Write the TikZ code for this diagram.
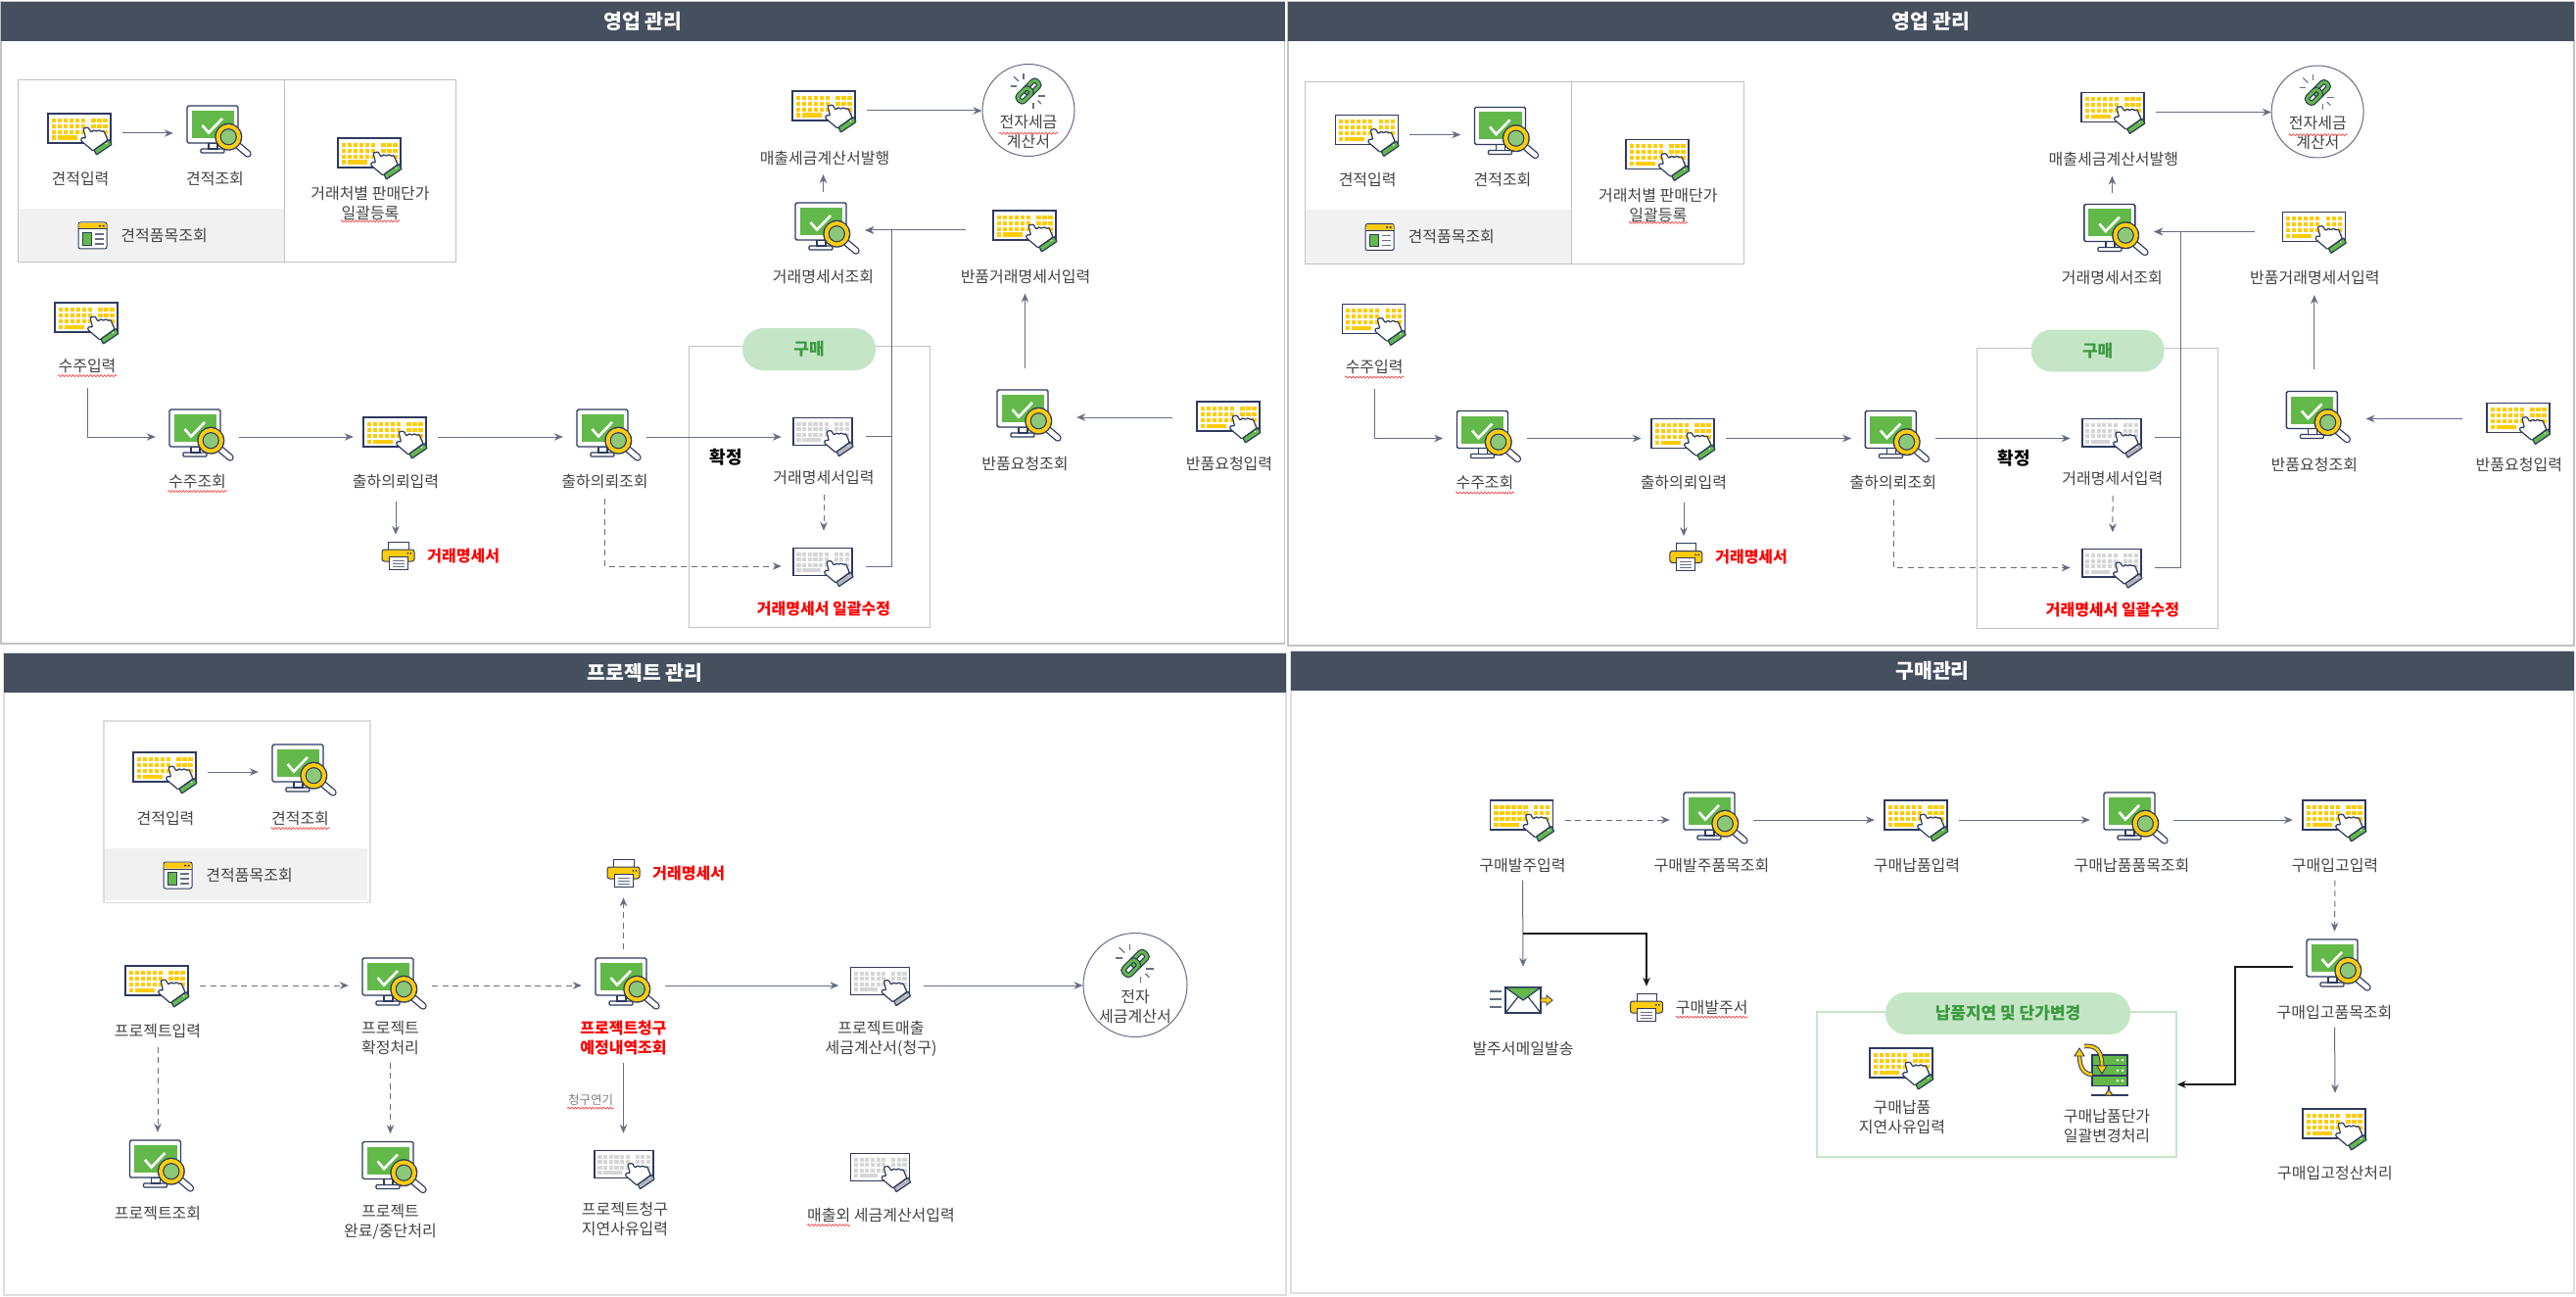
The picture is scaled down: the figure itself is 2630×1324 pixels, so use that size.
\documentclass[tikz,border=0pt]{standalone}
\usepackage{fontspec}
\setmainfont{Noto Sans CJK KR}
\usetikzlibrary{arrows.meta,positioning,decorations.pathmorphing}

\definecolor{hdrcol}{HTML}{454F5E}
\definecolor{navy}{HTML}{2E3A5F}
\definecolor{keyyel}{HTML}{FFCC0A}
\definecolor{icongrn}{HTML}{62B94A}
\definecolor{lensgrn}{HTML}{8CC878}
\definecolor{arrcol}{HTML}{666E85}
\definecolor{txtcol}{HTML}{444444}
\definecolor{pillgrn}{HTML}{C5E6C6}
\definecolor{pilltxt}{HTML}{3A9A3F}
\definecolor{framegray}{HTML}{C2C2C2}
\definecolor{framelite}{HTML}{DEDEDE}
\definecolor{bandgray}{HTML}{F1F1F1}
\definecolor{keygray}{HTML}{D6D6D6}
\definecolor{cuffgray}{HTML}{B4B6BC}

\newcommand{\kbdicon}[2]{%
  \begin{scope}[shift={(-33,-20)}]
    \draw[navy, line width=1.4pt, fill=white] (0,0) rectangle (64,30);
    \foreach \ky in {4.7,10.7,16.7} {
      \foreach \kx in {3.7,9.7,15.7,21.7,27.7,33.7,44.3,50.3,56.3}
        \fill[#1] (\kx,\ky) rectangle +(4.4,4.2);
    }
    \fill[#1] (3.7,22.5) rectangle +(4.4,4.2);
    \fill[#1] (9.7,22.5) rectangle +(20,4.2);
    \fill[#1] (56.3,22.5) rectangle +(4.4,4.2);
    \draw[navy, line width=1.2pt, fill=white, rounded corners=1pt]
      (36,15) -- (38.5,25) -- (34.5,24.5) -- (33.5,27.5) -- (46,38) -- (61,27)
      -- (57,17.5) -- (54,18.5) -- (52.5,16.5) -- (49,18.5) -- (47.5,16.5)
      -- (44,19) -- (41,14) -- cycle;
    \draw[navy, line width=1.2pt, fill=#2, rounded corners=.5pt]
      (47,37) -- (62.5,26.5) -- (65,31.5) -- (49.5,42) -- cycle;
    \fill[white] (59.5,30.5) circle (.8);
  \end{scope}}

\tikzset{
  keyin/.pic={\kbdicon{keyyel}{icongrn}},
  keygr/.pic={\begin{scope}[scale=.94]\kbdicon{keygray}{cuffgray}\end{scope}},
  monitor/.pic={
    \begin{scope}[shift={(-28.5,-28)}]
      \draw[navy, line width=1.2pt, fill=white, rounded corners=1pt] (14,48) -- (38,48) -- (38,44) -- (14,44) -- cycle;
      \draw[navy, line width=1.2pt, fill=white] (22,38) rectangle (31,44);
      \draw[navy, line width=1.4pt, fill=white, rounded corners=1.5pt] (0,0) rectangle (52,38);
      \fill[icongrn] (4.5,5) rectangle (48,33);
      \draw[white, line width=2.6pt] (15.5,20) -- (22,27.5) -- (36,13);
      \draw[navy, line width=7.4pt, line cap=round] (52.5,41) -- (62,49);
      \draw[white, line width=4.8pt, line cap=round] (52.5,41) -- (62,49);
      \fill[navy] (42.3,31.7) circle (14);
      \fill[keyyel] (42.3,31.7) circle (12.7);
      \fill[navy] (42.3,31.7) circle (8.6);
      \fill[lensgrn] (42.3,31.7) circle (7.4);
    \end{scope}},
  winicon/.pic={
    \begin{scope}[shift={(-14.5,-13.5)}]
      \draw[navy, line width=1pt, fill=white, rounded corners=2pt] (0,0) rectangle (29,27);
      \fill[keyyel, rounded corners=1.5pt] (.6,.6) rectangle (28.4,6.5);
      \draw[navy, line width=1pt] (0,7) -- (29,7);
      \fill[navy] (21,2.8) rectangle +(2,1.6) (24.5,2.8) rectangle +(2,1.6);
      \draw[navy, line width=.8pt, fill=icongrn] (4,10.5) rectangle (13,23);
      \foreach \ly in {12,17,22} \draw[arrcol, line width=1.1pt] (17,\ly) -- (26,\ly);
    \end{scope}},
  printer/.pic={
    \begin{scope}[shift={(-16.5,-14)}]
      \draw[navy, line width=1pt, fill=white] (6.5,0) rectangle (27,11);
      \draw[navy, line width=1pt, fill=keyyel, rounded corners=2.5pt] (0,8) rectangle (33,20);
      \fill[navy] (25.5,11) rectangle +(1.6,1.6) (28.5,11) rectangle +(1.6,1.6);
      \draw[navy, line width=1pt, fill=white] (7,15) rectangle (26,28);
      \foreach \ly in {19,22,25} \draw[arrcol, line width=.9pt] (10.5,\ly) -- (22.5,\ly);
    \end{scope}},
  chainicon/.pic={
    \foreach \sx/\sy/\ex/\ey in {-5/-18/-5/-12, -15/-15/-10/-10, -18/-5/-12/-5, 10/5/17/5, 5/12/5/18, 9.5/9.5/13/13}
      \draw[arrcol, line width=1.1pt] (\sx,\sy) -- (\ex,\ey);
    \begin{scope}[rotate=45]
      \draw[navy, line width=5.4pt, rounded corners=3pt] (-2,-4) rectangle (13,4);
      \draw[icongrn, line width=3pt, rounded corners=3pt] (-2,-4) rectangle (13,4);
      \draw[navy, line width=5.4pt, rounded corners=3pt] (-13,-4) rectangle (2,4);
      \draw[icongrn, line width=3pt, rounded corners=3pt] (-13,-4) rectangle (2,4);
    \end{scope}},
  mailicon/.pic={
    \foreach \ly in {-9,-1,7} \draw[arrcol, line width=1.2pt] (-34,\ly) -- (-22,\ly);
    \draw[navy, line width=1.3pt, fill=white] (-18,-13) rectangle (18,13);
    \draw[navy, line width=1.2pt, fill=icongrn] (-18,-13) -- (0,0) -- (18,-13) -- cycle;
    \draw[navy, line width=1.2pt] (-18,13) -- (-5,-3.5) (18,13) -- (5,-3.5);
    \draw[navy, line width=.8pt, fill=keyyel] (18,-2) -- (24,-2) -- (24,-5) -- (30,0) -- (24,5) -- (24,2) -- (18,2) -- cycle;
  },
  servericon/.pic={
    \foreach \ry in {-17,-6.5,4} {
      \draw[navy, line width=1.1pt, fill=icongrn] (-10,\ry) rectangle +(36,10.5);
      \fill[white] (16,\ry+5.2) circle (1.4) (21,\ry+5.2) circle (1.4);
    }
    \draw[navy, line width=1.1pt] (7,14.5) -- (7,22) (-11,24) -- (27,24);
    \draw[navy, line width=1pt, fill=keyyel] (3,24) -- (7,18.5) -- (11,24) -- cycle;
    \draw[navy, line width=4.6pt] (-10,3) .. controls (-20,2) and (-23,-6) .. (-23,-17);
    \draw[keyyel, line width=2.6pt] (-10,3) .. controls (-20,2) and (-23,-6) .. (-23,-17);
    \draw[navy, line width=.9pt, fill=keyyel] (-28,-16) -- (-23,-24) -- (-18,-16) -- cycle;
    \draw[navy, line width=4.6pt] (-18,-26) .. controls (-8,-27) and (0,-24) .. (0,-6);
    \draw[keyyel, line width=2.6pt] (-18,-26) .. controls (-8,-27) and (0,-24) .. (0,-6);
    \draw[navy, line width=.9pt, fill=keyyel] (-5,-6) -- (0,2) -- (5,-6) -- cycle;
  }
}

\begin{document}
\begin{tikzpicture}[
    x=1pt, y=-1pt, >={Stealth[length=9pt,width=7.5pt]},
    panel/.style={rectangle, draw=framegray, line width=1.2pt, inner sep=0pt},
    litepanel/.style={rectangle, draw=framelite, line width=1.6pt, inner sep=0pt},
    header/.style={rectangle, fill=hdrcol, text=white, inner sep=0pt,
                   font=\fontsize{20.5}{24}\selectfont\bfseries},
    estbox/.style={rectangle, draw=framegray, line width=1pt, inner sep=0pt},
    band/.style={rectangle, fill=bandgray, inner sep=0pt},
    kbdbox/.style={rectangle, inner sep=0pt, minimum width=86pt, minimum height=72pt},
    monbox/.style={rectangle, inner sep=0pt, minimum width=85pt, minimum height=72pt},
    winbox/.style={rectangle, inner sep=0pt, minimum width=29pt, minimum height=27pt},
    prnbox/.style={rectangle, inner sep=0pt, minimum width=35pt, minimum height=42pt},
    etax/.style={circle, draw=arrcol, line width=1pt, inner sep=0pt},
    lbl/.style={inner sep=0pt, align=center, text=txtcol, font=\fontsize{16}{20}\selectfont,
                execute at begin node={\rule{0pt}{16pt}},
                execute at end node={\rule[-4pt]{0pt}{4pt}}},
    redlbl/.style={lbl, text=red, font=\fontsize{16}{20}\selectfont\bfseries},
    smlbl/.style={lbl, text=gray, font=\fontsize{12.5}{16}\selectfont},
    boldlbl/.style={lbl, text=black, font=\fontsize{18}{20}\selectfont\bfseries},
    buybox/.style={rectangle, draw=framegray, line width=1pt, inner sep=0pt},
    grnbox/.style={rectangle, draw=pillgrn, line width=1.6pt, inner sep=0pt},
    pill/.style={rectangle, fill=pillgrn, text=pilltxt, rounded corners=21pt, inner sep=0pt,
                 minimum height=43pt, font=\fontsize{17}{20}\selectfont\bfseries},
    arr/.style={->, draw=arrcol, line width=1pt},
    dsh/.style={arr, dash pattern=on 6pt off 4.5pt},
    blk/.style={->, draw=black!90, line width=1.2pt},
    wavy/.style={draw=red!85, line width=.55pt, decorate,
                 decoration={snake, amplitude=1pt, segment length=3.6pt}}
  ]
    \useasboundingbox (0,0) rectangle (2630,1324);
    \fill[white] (0,0) rectangle (2630,1324);

    %--- Panel frames ---
    \node[panel, minimum width=1310.5pt, minimum height=655pt] (pan1) at (656.25,329.5) {};
    \node[header, minimum width=1310.5pt, minimum height=40pt] (hd1) at (656.25,22) {영업 관리};
    \node[panel, minimum width=1313pt, minimum height=657pt] (pan2) at (1971.5,330.5) {};
    \node[header, minimum width=1313pt, minimum height=40pt] (hd2) at (1971.5,22) {영업 관리};

    %--- Sales panels (same drawing twice) ---
    \foreach \pn/\px/\py/\sx in {a/0/0/1,b/1314/1.5/1.002} {
    \begin{scope}[shift={(\px,\py)}, xscale=\sx, name prefix=\pn-]
      %--- Estimate box ---
      \node[band, minimum width=271.5pt, minimum height=55pt] (bnd) at (154.5,240.5) {};
      \node[estbox, minimum width=271.5pt, minimum height=186pt] (eb1) at (154.25,175) {};
      \node[estbox, minimum width=175.5pt, minimum height=186pt] (eb2) at (377.75,175) {};
      \node[kbdbox] (est)  at (82,136) {};
      \node[monbox] (esv)  at (219.5,136) {};
      \node[kbdbox] (prc)  at (378,161) {};
      \node[winbox] (win)  at (94.5,240.5) {};
      \node[lbl, below=0pt of est]    (est-l) {견적입력};
      \node[lbl, below=0pt of esv]    (esv-l) {견적조회};
      \node[lbl, below=-7pt of prc]   (prc-l) {거래처별 판매단가 \\ 일괄등록};
      \node[lbl, right=14pt of win]   (win-l) {견적품목조회};

      %--- Order flow ---
      \node[kbdbox] (sin)  at (89,329) {};
      \node[monbox] (sqy)  at (201.5,446) {};
      \node[kbdbox] (req)  at (404,446) {};
      \node[monbox] (rqv)  at (617.5,446) {};
      \node[prnbox] (prn)  at (406.5,567) {};
      \node[lbl, below=-2pt of sin]   (sin-l) {수주입력};
      \node[lbl, below=-1pt of sqy]   (sqy-l) {수주조회};
      \node[lbl, below=-1pt of req]   (req-l) {출하의뢰입력};
      \node[lbl, below=-1pt of rqv]   (rqv-l) {출하의뢰조회};
      \node[redlbl, right=12pt of prn] (prn-l) {거래명세서};

      %--- Purchase group ---
      \node[buybox, minimum width=246pt, minimum height=286.5pt] (buy) at (826,496.75) {};
      \node[pill, minimum width=136pt] (buy-t) at (826,356.5) {구매};
      \node[boldlbl] (cfm) at (741,467) {확정};
      \node[kbdbox] (tin)  at (841,445) {};
      \node[kbdbox] (tbk)  at (841,578) {};
      \node[lbl, below=-4pt of tin]   (tin-l) {거래명세서입력};
      \node[redlbl, below=-3pt of tbk] (tbk-l) {거래명세서 일괄수정};

      %--- Invoice and returns ---
      \node[kbdbox] (tst)  at (842,113) {};
      \node[monbox] (tqy)  at (840.5,235) {};
      \node[etax, minimum size=94pt] (eti) at (1050,112.5) {};
      \node[kbdbox] (rtn)  at (1047,235) {};
      \node[monbox] (rrq)  at (1046.5,426) {};
      \node[kbdbox] (rri)  at (1255,430) {};
      \node[lbl, below=2pt of tst]    (tst-l) {매출세금계산서발행};
      \node[lbl, below=1pt of tqy]    (tqy-l) {거래명세서조회};
      \node[lbl, below=1pt of rtn]    (rtn-l) {반품거래명세서입력};
      \node[lbl, below=1pt of rrq]    (rrq-l) {반품요청조회};
      \node[lbl, below=-3pt of rri]   (rri-l) {반품요청입력};
      \node[lbl] (eti-l) at ([yshift=-23pt]eti.center) {전자세금 \\ 계산서};
      \coordinate (trk) at (910,235);

      %--- Icons ---
      \foreach \n in {est,prc,sin,req,tst,rtn,rri} \pic at (\n) {keyin};
      \foreach \n in {esv,sqy,rqv,tqy,rrq} \pic at (\n) {monitor};
      \foreach \n in {tin,tbk} \pic at (\n) {keygr};
      \pic at (win) {winicon};
      \pic at (prn) {printer};
      \pic at ([yshift=19.5pt]eti.center) {chainicon};

      %--- Arrows ---
      \draw[arr] (est) -- (esv);
      \draw[arr, shorten <=12pt] (sin-l.south) |- (sqy.west);
      \draw[arr] (sqy) -- (req);
      \draw[arr] (req) -- (rqv);
      \draw[arr] (rqv.east) -- (rqv.east -| tin.west);
      \draw[arr, shorten <=10pt] (req-l.south) -- (req-l.south |- prn.north);
      \draw[dsh, shorten <=7pt] (rqv-l.south) |- (tbk.west);
      \draw[dsh, shorten <=7pt] (tin-l.south) -- (tbk.north);
      \draw[arr, -] (tin.east) -- (tin.east -| trk);
      \draw[arr] (tbk.east) -| (trk) -- (tqy.east);
      \draw[arr, shorten <=18pt] (rtn.west) -- (tqy.east);
      \draw[arr, shorten <=3pt, shorten >=6.5pt] (tqy.north) -- (tqy.north |- tst-l.south);
      \draw[arr] (tst.east) -- (tst.east -| eti.west);
      \draw[arr, shorten <=14pt, shorten >=7pt] (rrq.north) -- (rrq.north |- rtn-l.south);
      \draw[arr, shorten <=15pt, shorten >=10pt] (rrq.east -| rri.west) -- (rrq.east);

      %--- Spell marks ---
      \draw[wavy] ([xshift=-30pt]sin-l.south) -- ([xshift=30pt]sin-l.south);
      \draw[wavy] ([xshift=-30pt]sqy-l.south) -- ([xshift=30pt]sqy-l.south);
      \draw[wavy] ([xshift=-30pt,yshift=2pt]prc-l.south) -- ([xshift=30pt,yshift=2pt]prc-l.south);
      \draw[wavy] ([xshift=-30pt,yshift=-19.5pt]eti-l.north) -- ([xshift=30pt,yshift=-19.5pt]eti-l.north);
    \end{scope}
    }

    %--- Project panel ---
    \node[litepanel, minimum width=1309pt, minimum height=655pt] (pan3) at (658.5,994.5) {};
    \node[header, minimum width=1309pt, minimum height=40pt] (hd3) at (658.5,686.5) {프로젝트 관리};
    \node[estbox, draw=framelite, line width=1.6pt, minimum width=272pt, minimum height=185.5pt] (pe) at (242,828.75) {};
    \node[band, minimum width=268pt, minimum height=53pt] (pb) at (241,892.5) {};
    \node[kbdbox] (pest)  at (169,788) {};
    \node[monbox] (pesv)  at (306.5,788) {};
    \node[winbox] (pwin)  at (181.5,893.5) {};
    \node[lbl, below=1pt of pest]   (pest-l) {견적입력};
    \node[lbl, below=1pt of pesv]   (pesv-l) {견적조회};
    \node[lbl, right=14pt of pwin]  (pwin-l) {견적품목조회};

    \node[kbdbox] (pin)   at (161,1006) {};
    \node[monbox] (pcf)   at (398.5,1006) {};
    \node[monbox] (pbl)   at (636.5,1006) {};
    \node[kbdbox] (psl)   at (899.5,1006) {};
    \node[etax, minimum size=106pt] (pet) at (1159,1005.5) {};
    \node[monbox] (pqy)   at (161,1192) {};
    \node[monbox] (pcl)   at (398.5,1193.5) {};
    \node[kbdbox] (pdl)   at (638,1193) {};
    \node[kbdbox] (pex)   at (899.5,1196) {};
    \node[prnbox] (pprn)  at (636.5,891) {};
    \node[lbl, below=0pt of pin]    (pin-l) {프로젝트입력};
    \node[lbl, below=0pt of pcf]    (pcf-l) {프로젝트 \\ 확정처리};
    \node[redlbl, below=0pt of pbl] (pbl-l) {프로젝트청구 \\ 예정내역조회};
    \node[lbl, below=0pt of psl]    (psl-l) {프로젝트매출 \\ 세금계산서(청구)};
    \node[lbl, below=0pt of pqy]    (pqy-l) {프로젝트조회};
    \node[lbl, below=-1pt of pcl]   (pcl-l) {프로젝트 \\ 완료/중단처리};
    \node[lbl, below=-2pt of pdl]   (pdl-l) {프로젝트청구 \\ 지연사유입력};
    \node[lbl, below=-2pt of pex]   (pex-l) {매출외 세금계산서입력};
    \node[redlbl, right=12pt of pprn] (pprn-l) {거래명세서};
    \node[smlbl] (pdly) at (603,1121) {청구연기};
    \node[lbl] (pet-l) at ([yshift=-23pt]pet.center) {전자 \\ 세금계산서};

    \foreach \n in {pest,pin} \pic at (\n) {keyin};
    \foreach \n in {pesv,pcf,pbl,pqy,pcl} \pic at (\n) {monitor};
    \foreach \n in {psl,pdl,pex} \pic at (\n) {keygr};
    \pic at (pwin) {winicon};
    \pic at (pprn) {printer};
    \pic[scale=1.1] at ([yshift=22pt]pet.center) {chainicon};

    \draw[arr] (pest) -- (pesv);
    \draw[dsh] (pin) -- (pcf);
    \draw[dsh] (pcf) -- (pbl);
    \draw[arr] (pbl) -- (psl);
    \draw[arr] (psl.east) -- (psl.east -| pet.west);
    \draw[dsh, shorten <=1pt, shorten >=4pt] (pbl.north) -- (pprn.south);
    \draw[dsh, shorten <=6pt] (pin-l.south) -- (pqy.north);
    \draw[dsh, shorten <=5pt] (pcf-l.south) -- (pcl.north);
    \draw[arr, shorten <=5pt] (pbl-l.south) -- (pbl-l.south |- pdl.north);

    \draw[wavy] ([xshift=-30pt]pesv-l.south) -- ([xshift=30pt]pesv-l.south);
    \draw[wavy] ([xshift=-24pt]pdly.south) -- ([xshift=24pt]pdly.south);
    \draw[wavy] (pex-l.south west) -- ([xshift=44pt]pex-l.south west);

    %--- Purchase panel ---
    \node[litepanel, minimum width=1310pt, minimum height=655pt] (pan4) at (1973,992.5) {};
    \node[header, minimum width=1310pt, minimum height=40pt] (hd4) at (1973,685) {구매관리};

    \node[kbdbox] (bod)   at (1554.5,837) {};
    \node[monbox] (bov)   at (1747.5,837) {};
    \node[kbdbox] (bdl)   at (1957,837) {};
    \node[monbox] (bdv)   at (2176.5,837) {};
    \node[kbdbox] (brc)   at (2384,837) {};
    \node[monbox] (brv)   at (2383.5,987) {};
    \node[kbdbox] (bst)   at (2384,1152) {};
    \node[rectangle, inner sep=0pt, minimum width=64pt, minimum height=68pt] (bml) at (1555,1021) {};
    \node[prnbox] (bpr)   at (1681,1028) {};
    \node[grnbox, minimum width=367pt, minimum height=148pt] (grn) at (2038.5,1107) {};
    \node[pill, minimum width=250pt] (grn-t) at (2050,1034.5) {납품지연 및 단가변경};
    \node[kbdbox] (bds)   at (1942,1090) {};
    \node[rectangle, inner sep=0pt, minimum width=56pt, minimum height=54pt] (bsv) at (2146,1094) {};
    \node[lbl, below=0pt of bod]    (bod-l) {구매발주입력};
    \node[lbl, below=0pt of bov]    (bov-l) {구매발주품목조회};
    \node[lbl, below=0pt of bdl]    (bdl-l) {구매납품입력};
    \node[lbl, below=0pt of bdv]    (bdv-l) {구매납품품목조회};
    \node[lbl, below=0pt of brc]    (brc-l) {구매입고입력};
    \node[lbl, below=0pt of brv]    (brv-l) {구매입고품목조회};
    \node[lbl, below=-1pt of bst]   (bst-l) {구매입고정산처리};
    \node[lbl, below=5pt of bml]    (bml-l) {발주서메일발송};
    \node[lbl, right=12pt of bpr]   (bpr-l) {구매발주서};
    \node[lbl, below=-3pt of bds]   (bds-l) {구매납품 \\ 지연사유입력};
    \node[lbl, below=11pt of bsv, xshift=5pt] (bsv-l) {구매납품단가 \\ 일괄변경처리};
    \coordinate (bj1) at (1555,953);
    \coordinate (bj2) at (2282,1107);

    \foreach \n in {bod,bdl,brc,bst,bds} \pic at (\n) {keyin};
    \foreach \n in {bov,bdv,brv} \pic at (\n) {monitor};
    \pic at (bml) {mailicon};
    \pic at (bpr) {printer};
    \pic at (bsv) {servericon};

    \draw[dsh] (bod) -- (bov);
    \draw[arr] (bov) -- (bdl);
    \draw[arr] (bdl) -- (bdv);
    \draw[arr] (bdv) -- (brc);
    \draw[dsh, shorten <=5pt] (brc-l.south) -- (brv.north);
    \draw[arr, shorten <=5pt] (brv-l.south) -- (bst.north);
    \draw[arr, shorten <=5pt] (bod-l.south) -- (bml.north);
    \draw[blk] (bj1) -| (bpr.north);
    \draw[blk] (brv.west) -| (bj2) -- (grn.east);
    \draw[wavy] (bpr-l.south west) -- (bpr-l.south east);
  \end{tikzpicture}
\end{document}
